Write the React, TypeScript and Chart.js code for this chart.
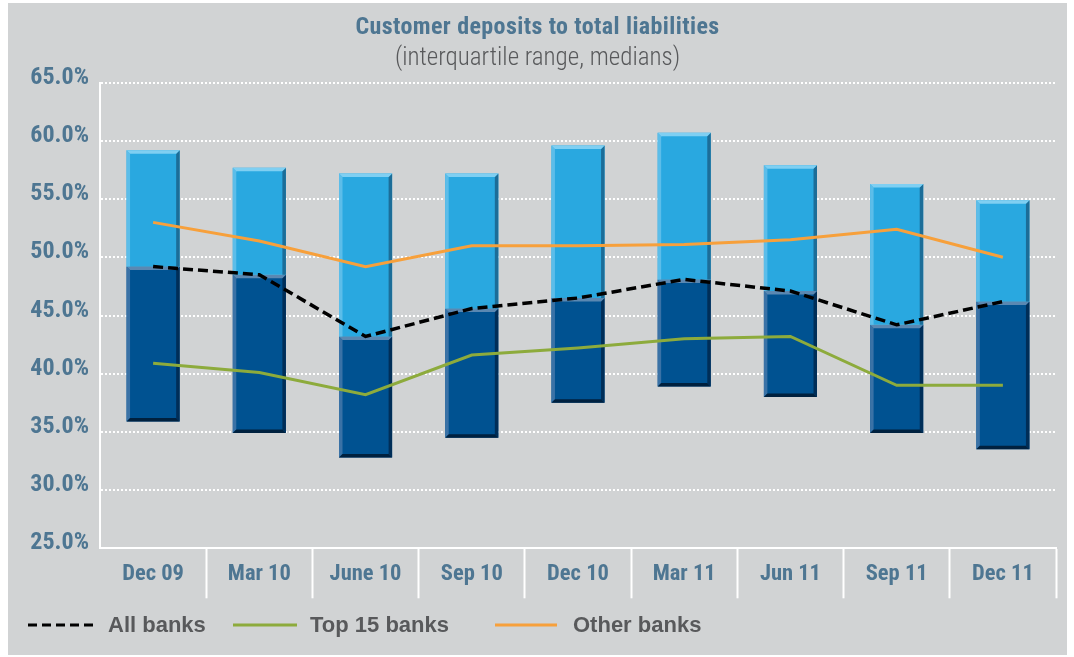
import React, { useEffect, useRef } from 'react';
import { Chart, registerables } from 'chart.js';

Chart.register(...registerables);

const categories = ['Dec 09', 'Mar 10', 'June 10', 'Sep 10', 'Dec 10', 'Mar 11', 'Jun 11', 'Sep 11', 'Dec 11'];
const lowerQuartile = [35.9, 34.9, 32.8, 34.5, 37.5, 38.9, 38.0, 34.9, 33.5];
const medianAll = [49.2, 48.5, 43.2, 45.6, 46.5, 48.1, 47.1, 44.2, 46.2];
const upperQuartile = [59.2, 57.7, 57.2, 57.2, 59.6, 60.7, 57.9, 56.3, 54.9];
const allBanks = [49.2, 48.5, 43.2, 45.6, 46.5, 48.1, 47.1, 44.2, 46.2];
const top15Banks = [40.9, 40.1, 38.2, 41.6, 42.2, 43.0, 43.2, 39.0, 39.0];
const otherBanks = [53.0, 51.4, 49.2, 51.0, 51.0, 51.1, 51.5, 52.4, 50.0];
const yMin = 25;
const yMax = 65;
const yStep = 5;

const TITLE = 'Customer deposits to total liabilities';
const SUBTITLE = '(interquartile range, medians)';

const AXIS_BLUE = '#4e7692';
const TEXT_GRAY = '#58595b';
const BG = '#d1d3d4';
const COND = '"Roboto Condensed", "Open Sans Condensed", sans-serif';

const bevelPlugin = {
  id: 'bevel',
  afterDatasetDraw(chart: any, args: any) {
    const ds = chart.data.datasets[args.index];
    const bevel = ds.bevel;
    if (!bevel) return;
    const ctx = chart.ctx;
    const e = 3.5;
    const poly = (pts: number[][], color: string) => {
      ctx.beginPath();
      ctx.moveTo(pts[0][0], pts[0][1]);
      for (let i = 1; i < pts.length; i++) ctx.lineTo(pts[i][0], pts[i][1]);
      ctx.closePath();
      ctx.fillStyle = color;
      ctx.fill();
    };
    ctx.save();
    args.meta.data.forEach((el: any) => {
      const { x, y, base, width } = el.getProps(['x', 'y', 'base', 'width'], true);
      const l = x - width / 2;
      const r = x + width / 2;
      const t = Math.min(y, base);
      const b = Math.max(y, base);
      const bb = bevel.bottom ? b - e : b;
      poly([[l, t], [l + e, t + e], [l + e, bb], [l, b]], bevel.left);
      poly([[r, t], [r, b], [r - e, bb], [r - e, t + e]], bevel.right);
      poly([[l, t], [r, t], [r - e, t + e], [l + e, t + e]], bevel.top);
      if (bevel.bottom) poly([[l, b], [r, b], [r - e, b - e], [l + e, b - e]], bevel.bottom);
    });
    ctx.restore();
  },
};

function ChartView() {
  const ref = useRef<HTMLCanvasElement | null>(null);
  useEffect(() => {
    if (!ref.current) return;
    const yFont = { family: COND, weight: 'bold' as const, size: 24 };
    const xFont = { family: COND, weight: 'bold' as const, size: 22.5 };
    const chart = new Chart(ref.current, {
      type: 'bar',
      data: {
        labels: categories,
        datasets: [
          {
            type: 'line',
            label: 'All banks',
            data: allBanks,
            borderColor: '#000000',
            borderWidth: 3.5,
            borderDash: [10, 5],
            pointRadius: 0,
            tension: 0,
            order: 0,
          } as any,
          {
            type: 'line',
            label: 'Top 15 banks',
            data: top15Banks,
            borderColor: '#8dab3c',
            borderWidth: 3,
            pointRadius: 0,
            tension: 0,
            order: 0,
          } as any,
          {
            type: 'line',
            label: 'Other banks',
            data: otherBanks,
            borderColor: '#f7a03b',
            borderWidth: 3,
            pointRadius: 0,
            tension: 0,
            order: 0,
          } as any,
          {
            type: 'bar',
            label: 'Upper half',
            data: medianAll.map((m, i) => [m, upperQuartile[i]]),
            backgroundColor: '#29a8e0',
            borderWidth: 0,
            grouped: false,
            barPercentage: 0.5,
            categoryPercentage: 1,
            order: 2,
            bevel: { top: '#7fcff2', left: '#5cbde9', right: '#1c6d98' },
          } as any,
          {
            type: 'bar',
            label: 'Lower half',
            data: lowerQuartile.map((q, i) => [q, medianAll[i]]),
            backgroundColor: '#005291',
            borderWidth: 0,
            grouped: false,
            barPercentage: 0.5,
            categoryPercentage: 1,
            order: 2,
            bevel: { top: '#5a88b2', left: '#3a72a6', right: '#002e58', bottom: '#00213f' },
          } as any,
        ],
      },
      options: {
        animation: false,
        responsive: false,
        layout: { padding: { top: 79.7, bottom: 56.7, left: 0, right: 11 } },
        plugins: {
          legend: { display: false },
          tooltip: { enabled: false },
          title: { display: false },
        },
        scales: {
          x: {
            offset: true,
            grid: {
              offset: true,
              drawOnChartArea: false,
              drawTicks: true,
              tickLength: 50,
              tickWidth: 2,
              tickColor: (c: any) => (c.index === 0 ? 'rgba(0,0,0,0)' : '#ffffff'),
            },
            border: { color: '#ffffff', width: 2 },
            ticks: {
              color: AXIS_BLUE,
              font: xFont,
              padding: -37,
              maxRotation: 0,
              autoSkip: false,
            },
            afterFit: (s: any) => {
              s.height = 50;
            },
          } as any,
          y: {
            min: yMin,
            max: yMax,
            ticks: {
              stepSize: yStep,
              callback: (v: any) => Number(v).toFixed(1) + '%',
              color: AXIS_BLUE,
              font: yFont,
              padding: 11,
              labelOffset: -5,
            },
            grid: { color: '#ffffff', lineWidth: 2, drawTicks: false },
            border: { color: '#ffffff', width: 2, dash: [2, 2] },
            afterFit: (s: any) => {
              s.width = 92;
            },
          } as any,
        },
      },
      plugins: [bevelPlugin],
    });
    return () => chart.destroy();
  }, []);
  return <canvas ref={ref} width={1059} height={652} style={{ position: 'absolute', left: 0, top: 0 }} />;
}

function LegendItem({ left, lineEnd, textLeft, color, dash, label }: any) {
  return (
    <>
      <svg style={{ position: 'absolute', left, top: 612, overflow: 'visible' }} width={lineEnd - left} height={20}>
        <line x1={0} y1={10} x2={lineEnd - left} y2={10} stroke={color} strokeWidth={3} strokeDasharray={dash} />
      </svg>
      <div
        style={{
          position: 'absolute',
          left: textLeft,
          top: 608,
          height: 28,
          lineHeight: '28px',
          fontFamily: 'Liberation Sans, Arial, sans-serif',
          fontWeight: 'bold',
          fontSize: 22,
          color: TEXT_GRAY,
          whiteSpace: 'nowrap',
        }}
      >
        {label}
      </div>
    </>
  );
}

export default function App() {
  return (
    <div style={{ position: 'absolute', left: 8, top: 3, width: 1059, height: 652, background: BG, overflow: 'hidden' }}>
      <ChartView />
      <div
        style={{
          position: 'absolute',
          left: 0,
          top: 9,
          width: '100%',
          textAlign: 'center',
          lineHeight: '28px',
          fontFamily: COND,
          fontWeight: 'bold',
          fontSize: 24,
          letterSpacing: 0.4,
          color: AXIS_BLUE,
        }}
      >
        {TITLE}
      </div>
      <div
        style={{
          position: 'absolute',
          left: 0,
          top: 40,
          width: '100%',
          textAlign: 'center',
          lineHeight: '28px',
          fontFamily: COND,
          fontWeight: 300,
          fontSize: 25,
          color: TEXT_GRAY,
        }}
      >
        {SUBTITLE}
      </div>
      <LegendItem left={20} lineEnd={85} textLeft={100} color="#000000" dash="9 5" label="All banks" />
      <LegendItem left={225} lineEnd={289} textLeft={302} color="#8dab3c" label="Top 15 banks" />
      <LegendItem left={487} lineEnd={549} textLeft={565} color="#f7a03b" label="Other banks" />
    </div>
  );
}
